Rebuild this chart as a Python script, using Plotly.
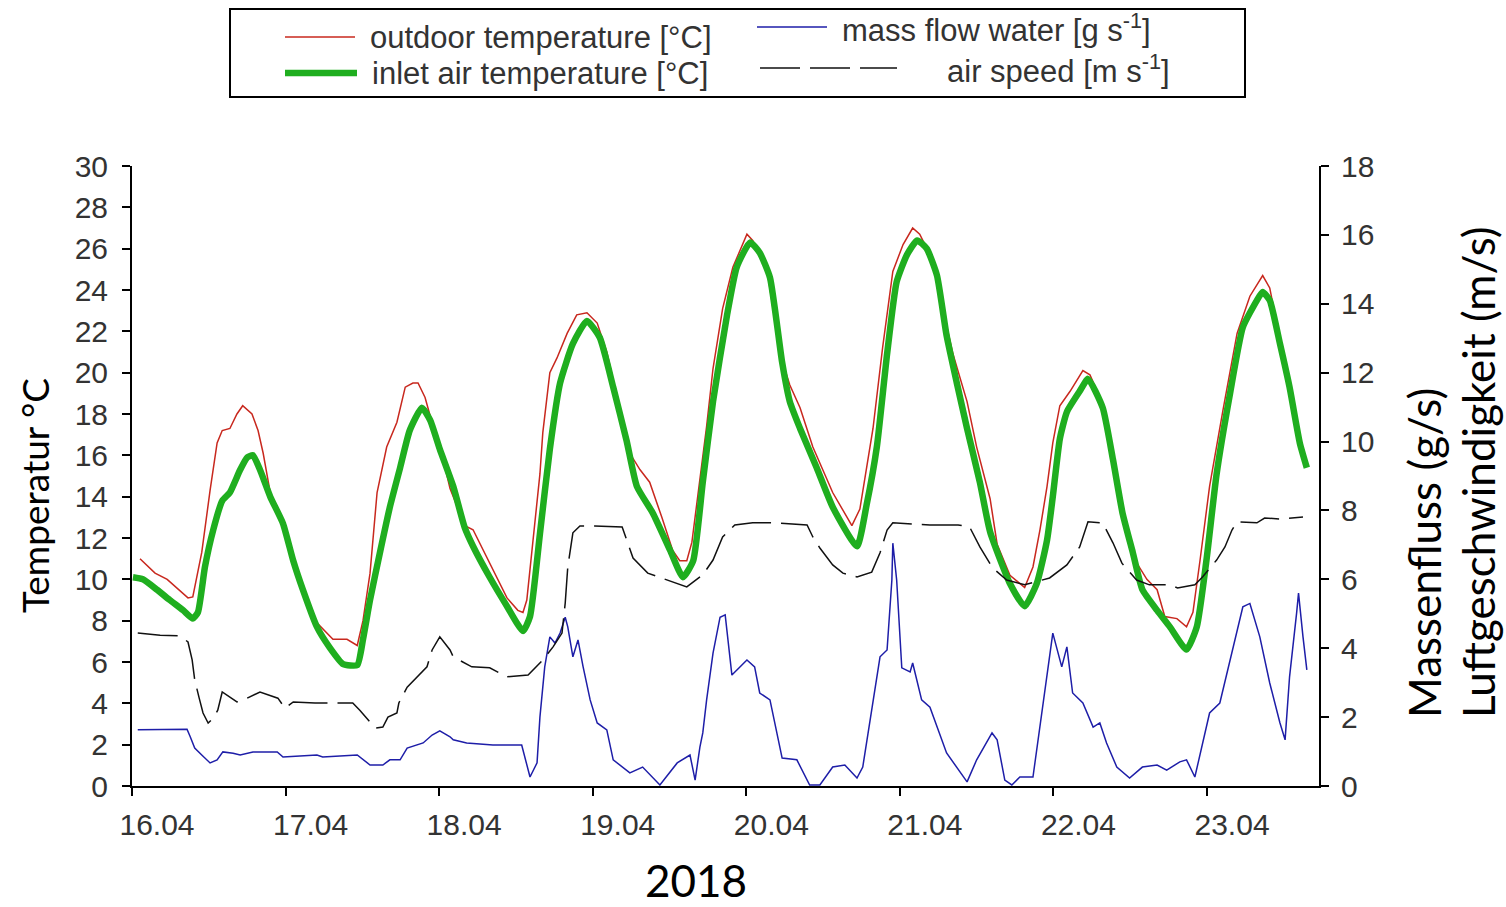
import numpy as np
import pandas as pd
import plotly.graph_objects as go

# ---------------- data (hours since 16.04.2018 00:00) ----------------
outdoor_h = [1.25, 3.6, 5.5, 8.75, 9.5, 10.9, 12.2, 13.3, 14.1, 15.3,
             16.4, 17.3, 18.75, 19.7, 20.5, 21.6, 23.6, 25.2, 26.7, 28.9,
             31.4, 33.6, 35.2, 36.1, 37.2, 38.3, 39.8, 41.4, 42.7, 43.9,
             44.7, 45.8, 46.6, 48.1, 49.7, 52.0, 53.3, 55.9, 58.6, 60.3,
             61.1, 61.7, 62.7, 63.75, 64.2, 65.3, 66.4, 68.0, 69.5, 71.1,
             72.7, 74.2, 75.8, 77.8, 79.4, 80.9, 82.8, 84.5, 85.6, 86.7,
             87.5, 88.75, 89.8, 90.8, 92.3, 93.9, 96.1, 97.0, 99.2, 101.25,
             102.8, 104.4, 106.4, 109.5, 112.5, 113.75, 115.8, 117.3, 118.9, 120.5,
             122.0, 123.1, 125.2, 126.7, 128.3, 130.5, 132.0, 134.1, 135.2, 137.2,
             139.5, 140.8, 141.9, 143.0, 143.9, 145.0, 146.6, 148.6, 149.7, 151.7,
             153.3, 154.8, 157.0, 158.6, 160.2, 161.4, 163.3, 164.8, 165.8, 166.9,
             168.4, 170.5, 172.7, 174.7, 176.7, 177.8, 179.4, 180.9, 182.5, 183.6]
outdoor_T = [11.0, 10.3, 10.0, 9.1, 9.15, 11.3, 14.3, 16.6, 17.2, 17.3,
             18.0, 18.4, 18.0, 17.2, 16.1, 14.2, 12.9, 11.1, 9.7, 7.9,
             7.1, 7.1, 6.8, 8.0, 10.3, 14.2, 16.4, 17.6, 19.3, 19.5,
             19.5, 18.8, 17.9, 16.5, 14.4, 12.6, 12.4, 10.8, 9.1, 8.5,
             8.4, 9.0, 11.9, 15.1, 17.1, 20.0, 20.7, 21.9, 22.8, 22.9,
             22.4, 21.0, 18.8, 16.1, 15.3, 14.7, 13.0, 11.4, 10.9, 10.9,
             11.8, 14.7, 17.4, 20.2, 23.1, 25.1, 26.7, 26.4, 25.1, 20.9,
             19.4, 18.3, 16.4, 14.2, 12.6, 13.4, 17.3, 21.2, 24.9, 26.2,
             27.0, 26.7, 25.4, 23.1, 20.9, 18.6, 16.4, 13.9, 11.7, 10.2,
             9.6, 10.6, 12.4, 14.5, 16.6, 18.4, 19.1, 20.1, 19.9, 18.5,
             16.0, 13.4, 10.8, 10.0, 9.5, 8.2, 8.1, 7.7, 8.4, 10.9,
             14.5, 18.2, 21.9, 23.7, 24.7, 24.1, 21.6, 19.5, 16.8, 15.5]

inlet_h = [0.15, 1.7, 3.9, 5.9, 8.0, 9.5, 10.3, 11.4, 12.7, 14.1,
           15.3, 16.9, 18.0, 18.9, 20.0, 21.6, 23.6, 25.2, 26.7, 28.9,
           30.9, 33.0, 35.2, 36.1, 37.2, 38.75, 40.3, 41.9, 43.4, 45.3,
           46.6, 48.1, 50.2, 52.0, 53.3, 55.9, 58.6, 61.1, 62.2, 63.75,
           65.3, 66.9, 68.9, 71.1, 73.1, 75.2, 77.3, 78.9, 81.4, 84.1,
           86.1, 87.7, 89.2, 90.8, 93.0, 94.5, 96.6, 98.1, 99.7, 101.6,
           102.8, 104.4, 107.0, 109.5, 113.3, 114.8, 116.4, 118.0, 119.5, 121.1,
           122.7, 124.2, 125.8, 127.3, 128.9, 130.5, 132.5, 134.1, 137.2, 139.5,
           141.4, 143.0, 143.9, 145.0, 146.1, 148.1, 149.4, 151.7, 153.3, 154.8,
           156.4, 157.9, 160.2, 162.2, 164.8, 166.4, 167.9, 169.5, 171.6, 173.6,
           175.8, 176.7, 177.8, 179.4, 180.9, 182.5, 183.6]
inlet_T = [10.1, 10.0, 9.5, 9.0, 8.5, 8.1, 8.4, 10.6, 12.4, 13.8,
           14.2, 15.3, 15.9, 16.0, 15.3, 14.0, 12.7, 10.9, 9.5, 7.7,
           6.7, 5.9, 5.85, 7.1, 9.0, 11.3, 13.5, 15.4, 17.2, 18.3,
           17.7, 16.3, 14.5, 12.5, 11.6, 10.1, 8.7, 7.5, 8.2, 12.2,
           16.3, 19.5, 21.4, 22.5, 21.7, 19.3, 16.7, 14.5, 13.2, 11.4,
           10.1, 10.9, 14.7, 18.6, 22.8, 25.1, 26.3, 25.8, 24.6, 20.5,
           18.6, 17.3, 15.4, 13.5, 11.6, 13.6, 16.4, 20.9, 24.4, 25.7,
           26.4, 26.0, 24.7, 21.8, 19.5, 17.3, 14.7, 12.3, 9.8, 8.7,
           9.8, 11.9, 14.0, 16.8, 18.1, 19.1, 19.7, 18.3, 15.8, 13.2,
           11.3, 9.5, 8.5, 7.7, 6.6, 7.7, 10.9, 15.1, 19.0, 22.2,
           23.5, 23.9, 23.5, 21.4, 19.3, 16.6, 15.4]

massflow_h = [0.9, 4.8, 8.6, 9.1, 9.8, 10.9, 12.2, 13.3, 14.2, 15.8,
              16.9, 18.9, 22.7, 23.6, 28.9, 29.8, 35.2, 37.2, 39.2, 40.3,
              41.9, 43.0, 45.5, 46.9, 48.1, 49.7, 50.2, 52.3, 56.4, 60.9,
              62.2, 63.3, 63.75, 64.5, 65.3, 66.1, 66.9, 67.7, 68.1, 68.9,
              69.7, 70.5, 71.6, 72.7, 74.2, 75.2, 77.8, 79.8, 82.5, 85.2,
              87.2, 88.0, 88.75, 89.2, 89.8, 90.8, 91.9, 92.7, 93.75, 96.1,
              97.3, 98.1, 99.7, 101.6, 103.9, 105.9, 107.5, 109.5, 111.4, 113.3,
              114.2, 116.9, 118.0, 118.75, 118.9, 119.5, 120.3, 121.6, 122.0, 123.4,
              124.7, 127.3, 130.5, 132.0, 134.4, 135.2, 136.4, 137.5, 138.75, 140.8,
              142.3, 143.9, 145.3, 146.1, 147.0, 148.6, 150.2, 151.25, 152.3, 153.9,
              155.9, 157.9, 160.2, 161.7, 163.75, 164.8, 166.1, 167.3, 168.4, 170.0,
              171.6, 173.6, 174.7, 176.25, 177.8, 179.4, 180.2, 180.9, 182.0, 182.3,
              183.0, 183.6]
massflow_v = [1.63, 1.63, 1.65, 1.43, 1.1, 0.9, 0.67, 0.76, 0.99, 0.95,
              0.9, 0.99, 0.99, 0.84, 0.9, 0.84, 0.9, 0.61, 0.61, 0.76,
              0.76, 1.1, 1.25, 1.48, 1.6, 1.43, 1.34, 1.25, 1.19, 1.19,
              0.26, 0.67, 2.0, 3.46, 4.33, 4.15, 4.44, 4.9, 4.62, 3.75,
              4.24, 3.46, 2.5, 1.83, 1.63, 0.76, 0.38, 0.55, 0.03, 0.67,
              0.9, 0.17, 1.13, 1.54, 2.5, 3.86, 4.9, 4.97, 3.22, 3.66,
              3.46, 2.7, 2.5, 0.81, 0.76, 0.03, 0.03, 0.55, 0.61, 0.23,
              0.55, 3.75, 3.95, 5.98, 7.05, 5.98, 3.43, 3.31, 3.57, 2.5,
              2.29, 0.96, 0.12, 0.76, 1.54, 1.34, 0.17, 0.03, 0.26, 0.26,
              2.29, 4.44, 3.46, 4.04, 2.7, 2.41, 1.71, 1.83, 1.25, 0.55,
              0.23, 0.55, 0.61, 0.46, 0.7, 0.76, 0.26, 1.25, 2.12, 2.41,
              3.66, 5.2, 5.3, 4.33, 2.99, 1.83, 1.34, 3.17, 5.02, 5.6,
              4.33, 3.37]

airspeed_h = [0.9, 4.4, 7.5, 8.75, 9.4, 9.8, 10.5, 11.1, 11.9, 12.7,
              13.4, 14.1, 16.4, 18.0, 20.0, 22.8, 23.9, 25.2, 28.6, 34.5,
              35.6, 36.7, 38.0, 39.2, 40.0, 41.4, 41.7, 43.0, 44.5, 46.1,
              46.9, 48.1, 49.7, 50.2, 53.1, 55.9, 58.6, 61.9, 64.2, 65.8,
              67.2, 67.7, 68.1, 68.9, 70.0, 72.3, 76.6, 77.3, 78.3, 80.6,
              83.6, 86.7, 89.2, 90.8, 92.3, 94.2, 97.0, 100.5, 105.5, 106.4,
              107.5, 109.5, 111.1, 113.3, 115.6, 116.9, 118.0, 118.9, 124.7, 129.1,
              130.9, 132.5, 134.5, 136.7, 139.5, 143.4, 146.1, 148.1, 149.4, 151.7,
              153.3, 154.7, 157.0, 159.0, 162.2, 163.4, 166.1, 167.3, 169.5, 170.8,
              171.9, 172.7, 175.8, 177.0, 179.7, 183.0]
airspeed_v = [4.44, 4.38, 4.36, 4.18, 3.66, 3.08, 2.55, 2.12, 1.83, 1.97,
              2.2, 2.73, 2.44, 2.55, 2.73, 2.55, 2.26, 2.44, 2.41, 2.41,
              2.2, 1.97, 1.68, 1.71, 2.0, 2.12, 2.41, 2.87, 3.17, 3.46,
              3.95, 4.33, 3.95, 3.75, 3.46, 3.43, 3.17, 3.22, 3.66, 4.04,
              4.44, 5.31, 6.36, 7.35, 7.55, 7.55, 7.52, 7.14, 6.62, 6.18,
              5.98, 5.78, 6.13, 6.56, 7.23, 7.58, 7.64, 7.64, 7.58, 7.23,
              6.91, 6.42, 6.18, 6.07, 6.21, 6.77, 7.43, 7.64, 7.58, 7.58,
              7.52, 6.94, 6.33, 5.98, 5.84, 6.04, 6.42, 6.94, 7.67, 7.64,
              7.06, 6.47, 5.98, 5.84, 5.84, 5.75, 5.84, 6.07, 6.56, 6.94,
              7.43, 7.67, 7.64, 7.78, 7.75, 7.81]

start_date = "2018-04-16"
end_hours = 185.5
legend_labels = ["outdoor temperature [°C]", "inlet air temperature [°C]",
                 "mass flow water [g s<sup>-1</sup>]", "air speed [m s<sup>-1</sup>]"]
left_title = "Temperatur °C"
right_titles = ["Massenfluss (g/s)", "Luftgeschwindigkeit (m/s)"]
year_label = "2018"

# ---------------- styling ----------------
W_FIG, H_FIG = 1506, 907
L, R, T, B = 132, 187, 166, 121
PW, PH = W_FIG - L - R, H_FIG - T - B

RED = "#c8281e"
GREEN = "#1fae1f"
BLUE = "#1e1ea8"
BLACK = "#111111"
DASH = "40px,10px"

base = pd.Timestamp(start_date)
def to_time(h):
    return base + pd.to_timedelta(np.asarray(h, dtype=float), unit="h")

def px_x(x):
    return (x - L) / PW

def px_y(y):
    return (H_FIG - B - y) / PH

fig = go.Figure()
fig.add_trace(go.Scatter(x=to_time(outdoor_h), y=outdoor_T, mode="lines",
                         line=dict(color=RED, width=1.5), name=legend_labels[0]))
fig.add_trace(go.Scatter(x=to_time(inlet_h), y=inlet_T, mode="lines",
                         line=dict(color=GREEN, width=6.5, shape="spline", smoothing=0.5),
                         name=legend_labels[1]))
fig.add_trace(go.Scatter(x=to_time(massflow_h), y=massflow_v, mode="lines", yaxis="y2",
                         line=dict(color=BLUE, width=1.5), name=legend_labels[2]))
fig.add_trace(go.Scatter(x=to_time(airspeed_h), y=airspeed_v, mode="lines", yaxis="y2",
                         line=dict(color=BLACK, width=1.5, dash=DASH), name=legend_labels[3]))

tickfont = dict(family="Liberation Sans, Arial, sans-serif", size=30, color="#333333")

fig.update_layout(
    width=W_FIG, height=H_FIG,
    margin=dict(l=L, r=R, t=T, b=B, autoexpand=False),
    paper_bgcolor="white", plot_bgcolor="white",
    showlegend=False,
    xaxis=dict(type="date", range=[base, base + pd.Timedelta(hours=end_hours)],
               tick0=base, dtick=86400000, tickformat="%d.%m",
               ticks="outside", ticklen=8, tickwidth=1.5, tickcolor="black",
               showline=True, linecolor="black", linewidth=2,
               showgrid=False, zeroline=False, tickfont=tickfont,
               ticklabelshift=25, ticklabelstandoff=3),
    yaxis=dict(range=[0, 30], tick0=0, dtick=2,
               ticks="outside", ticklen=8, tickwidth=1.5, tickcolor="black",
               showline=True, linecolor="black", linewidth=2,
               showgrid=False, zeroline=False, tickfont=tickfont,
               ticklabelstandoff=8),
    yaxis2=dict(range=[0, 18], tick0=0, dtick=2, overlaying="y", side="right",
                ticks="outside", ticklen=8, tickwidth=1.5, tickcolor="black",
                showline=True, linecolor="black", linewidth=2,
                showgrid=False, zeroline=False, tickfont=tickfont,
                ticklabelstandoff=6),
)

ann = []
ann.append(dict(text=left_title, x=px_x(34), y=px_y(496), xref="paper", yref="paper",
                textangle=-90, showarrow=False,
                font=dict(family="Lato, sans-serif", size=37, color="#000"),
                xanchor="center", yanchor="middle"))
ann.append(dict(text=right_titles[0], x=px_x(1424), y=px_y(720), xref="paper", yref="paper",
                textangle=-90, showarrow=False,
                font=dict(family="Lato, sans-serif", size=44, color="#000"),
                xanchor="center", yanchor="bottom"))
ann.append(dict(text=right_titles[1], x=px_x(1478), y=px_y(720), xref="paper", yref="paper",
                textangle=-90, showarrow=False,
                font=dict(family="Lato, sans-serif", size=44, color="#000"),
                xanchor="center", yanchor="bottom"))
ann.append(dict(text=year_label, x=px_x(696), y=px_y(880), xref="paper", yref="paper",
                showarrow=False, font=dict(family="Lato, sans-serif", size=44, color="#000"),
                xanchor="center", yanchor="middle"))

# manual legend box
shapes = [dict(type="rect", xref="paper", yref="paper",
               x0=px_x(230), x1=px_x(1245), y0=px_y(97), y1=px_y(9),
               line=dict(color="black", width=2), fillcolor="white", layer="above")]
legend_items = [
    (285, 355, 37, RED, 1.5, "solid", 368, 37, legend_labels[0]),
    (285, 357, 73, GREEN, 6.5, "solid", 370, 73, legend_labels[1]),
    (757, 827, 27, BLUE, 1.5, "solid", 840, 28, legend_labels[2]),
    (760, 897, 68, BLACK, 1.5, DASH, 945, 69, legend_labels[3]),
]
legfont = dict(family="Liberation Sans, Arial, sans-serif", size=31, color="#333333")
for x0, x1, yy, col, wd, ds, tx, ty, lab in legend_items:
    shapes.append(dict(type="line", xref="paper", yref="paper",
                       x0=px_x(x0), x1=px_x(x1), y0=px_y(yy), y1=px_y(yy),
                       line=dict(color=col, width=wd, dash=ds), layer="above"))
    ann.append(dict(text=lab, x=px_x(tx), y=px_y(ty), xref="paper", yref="paper",
                    showarrow=False, font=legfont, xanchor="left", yanchor="middle"))

fig.update_layout(annotations=ann, shapes=shapes)
fig.write_html("out.html", config={"displayModeBar": False},
               post_script="document.body.style.margin='0px';document.body.style.overflow='hidden';")
